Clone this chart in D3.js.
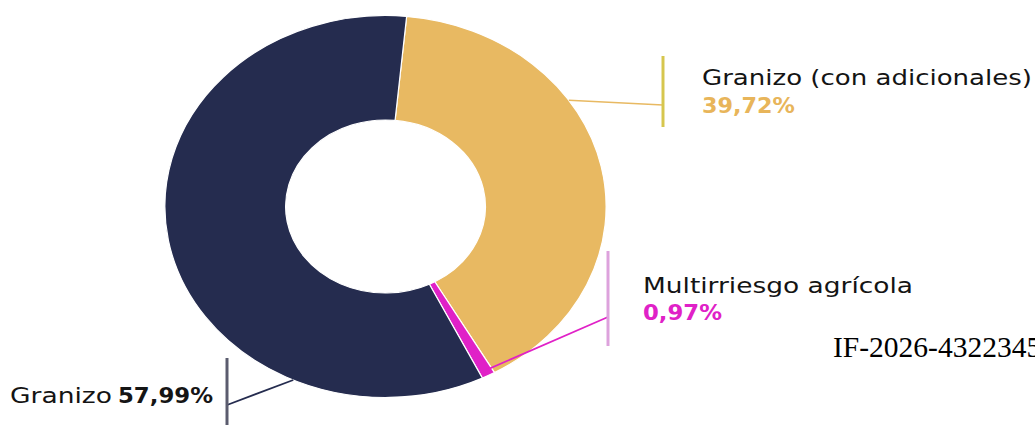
<!DOCTYPE html>
<html>
<head>
<meta charset="utf-8">
<script src="https://cdn.jsdelivr.net/npm/d3@7"></script>
<style>
  html, body { margin: 0; padding: 0; background: #fff; }
  svg { display: block; }
</style>
</head>
<body>
<svg id="chart" width="1035" height="425"></svg>
<script>
// ---- data ----
const categories = ["Granizo (con adicionales)", "Multirriesgo agrícola", "Granizo"];
const values = [39.72, 0.97, 57.99];
const colors = ["#e8b962", "#e021c7", "#252c4f"];
const barColors = ["#d6c64e", "#dda2dc", "#5b5c6e"];
const valueColors = ["#e8b55a", "#e021c7", "#151515"];
const footnote = "IF-2026-4322345";

// ---- layout ----
const W = 1035, H = 425;
const cx = 385.5, cy = 206.5, sx = 1.155;
const rOuter = 191, rInner = 86.5;
const start = 5.5 * Math.PI / 180;

const svg = d3.select("#chart");
const fmt = v => d3.format(".2f")(v).replace(".", ",") + "%";

const pie = d3.pie().sort(null).value(d => d).startAngle(start).endAngle(start + 2 * Math.PI);
const arcs = pie(values);
const arc = d3.arc().innerRadius(rInner).outerRadius(rOuter);

const g = svg.append("g").attr("transform", `translate(${cx},${cy}) scale(${sx},1)`);
g.selectAll("path").data(arcs).join("path")
  .attr("d", arc)
  .attr("fill", (d, i) => colors[i])
  .attr("stroke", "#fff")
  .attr("stroke-width", 1.2)
  .attr("vector-effect", "non-scaling-stroke");

// point on (scaled) ring at fraction of slice angle
function ringPoint(d, frac, r) {
  const a = d.startAngle + (d.endAngle - d.startAngle) * frac;
  return [cx + Math.sin(a) * r * sx, cy - Math.cos(a) * r];
}

const font = "'DejaVu Sans', sans-serif";

// leader config: [fraction in slice, radius, bar x, bar y0, bar y1, line end y]
const leaders = [
  { frac: 0.35, r: rOuter, bx: 663, y0: 56, y1: 127, ly: 105, w: 1.6 },
  { frac: 0.5, r: rOuter * 0.97, bx: 608, y0: 251, y1: 346, ly: 317, w: 1.8 },
  { frac: 0.24, r: rOuter, bx: 227, y0: 358, y1: 425, ly: 405, w: 1.8 }
];

leaders.forEach((L, i) => {
  const p = ringPoint(arcs[i], L.frac, L.r);
  svg.append("line")
    .attr("x1", p[0]).attr("y1", p[1]).attr("x2", L.bx).attr("y2", L.ly)
    .attr("stroke", colors[i]).attr("stroke-width", L.w);
  svg.append("line")
    .attr("x1", L.bx).attr("x2", L.bx).attr("y1", L.y0).attr("y2", L.y1)
    .attr("stroke", barColors[i]).attr("stroke-width", 3);
});

function txt(x, y, s, opts) {
  const t = svg.append("text")
    .attr("x", x).attr("y", y)
    .attr("font-family", font)
    .attr("font-size", opts.size || 20)
    .attr("font-weight", opts.weight || "normal")
    .attr("fill", opts.fill || "#141414")
    .text(s);
  if (opts.width) t.attr("textLength", opts.width).attr("lengthAdjust", "spacingAndGlyphs");
  return t;
}

// Granizo (con adicionales)
txt(702, 85, categories[0], { width: 330, size: 20.5 });
txt(702, 113, fmt(values[0]), { width: 93, size: 20.5, weight: "bold", fill: valueColors[0] });
// Multirriesgo agrícola
txt(643, 293, categories[1], { width: 270, size: 20.5 });
txt(643, 320, fmt(values[1]), { width: 79, size: 20.5, weight: "bold", fill: valueColors[1] });
// Granizo
txt(10, 403, categories[2], { width: 102, size: 20.5 });
txt(118, 403, fmt(values[2]), { width: 95, size: 20.5, weight: "bold", fill: valueColors[2] });

// footnote
svg.append("text")
  .attr("x", 833).attr("y", 357)
  .attr("font-family", "'Liberation Serif', 'Times New Roman', serif")
  .attr("font-size", 29.5)
  .attr("fill", "#000")
  .text(footnote);
</script>
</body>
</html>
